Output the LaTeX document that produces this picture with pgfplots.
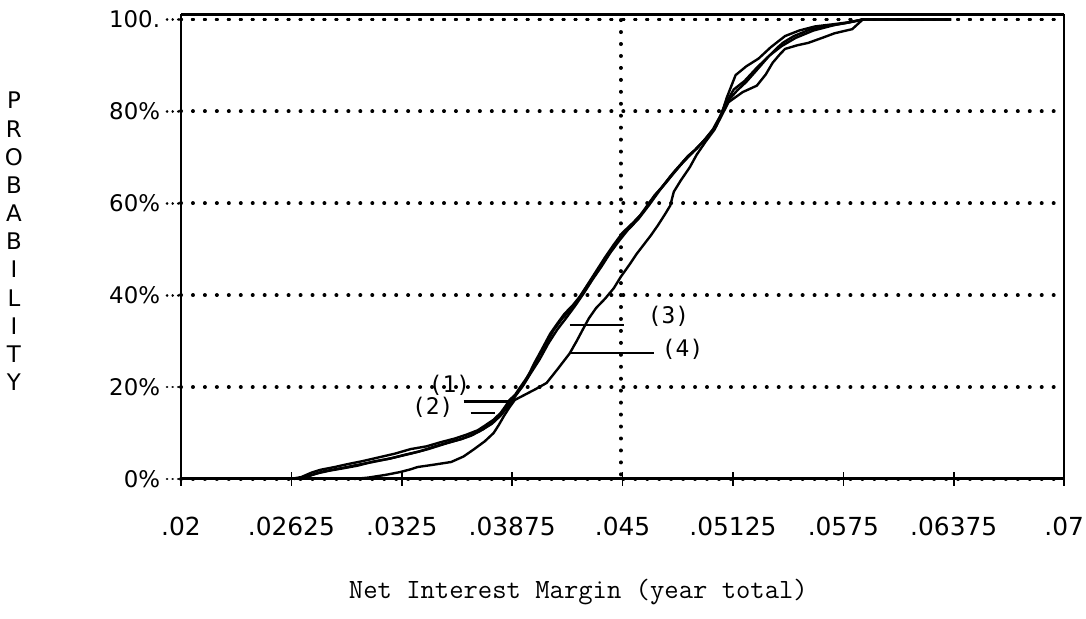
\documentclass[border=0pt]{standalone}
\usepackage{fontspec}
\usepackage{pgfplots}
\pgfplotsset{compat=1.18}
\newfontfamily\djs{DejaVu Sans}
\newfontfamily\djm{DejaVu Sans Mono}
\tikzset{dotgrid/.style={line width=2pt, line cap=round, dash pattern=on 0.01pt off 6pt, black}}
\begin{document}
\begin{tikzpicture}
\begin{axis}[
  name=ax,
  scale only axis,
  width=444pt, height=233.3pt,
  xmin=0.02, xmax=0.07, ymin=0, ymax=101,
  scaled x ticks=false,
  xtick={0.02,0.02625,0.0325,0.03875,0.045,0.05125,0.0575,0.06375,0.07},
  xticklabels={.02,.02625,.0325,.03875,.045,.05125,.0575,.06375,.07},
  ytick={0,20,40,60,80,100},
  yticklabels={0\%,20\%,40\%,60\%,80\%,100.},
  xticklabel style={font=\djs\fontsize{12.5}{15}\selectfont, yshift=-12pt},
  yticklabel style={font=\djs\fontsize{11.5}{13}\selectfont},
  x tick style={line width=0.8pt, black},
  y tick style={line width=1.4pt, line cap=round, dash pattern=on 0.01pt off 2.8pt, black},
  xtick pos=bottom, ytick pos=left,
  tick align=outside,
  xtick align=center,
  major tick length=7pt,
  ymajorgrids,
  grid style={dotgrid},
  axis line style={line width=0.75pt},
  clip=false,
]
% dotted vertical guide at .045
\draw[dotgrid] (axis cs:0.0449,1) -- (axis cs:0.0449,100);
\draw[dotgrid] (axis cs:0.02,100) -- (axis cs:0.07,100);

% curve (1)
\addplot[black, line width=1.2pt] coordinates {
(0.0262,0) (0.0268,0.4) (0.0274,1.4) (0.0279,2.0) (0.0287,2.6) (0.0294,3.2)
(0.0303,3.9) (0.0312,4.7) (0.0321,5.5) (0.0330,6.5) (0.0339,7.1) (0.0347,8.0)
(0.0355,8.8) (0.0362,9.7) (0.0368,10.6) (0.0372,11.6) (0.0377,12.9) (0.0381,14.4)
(0.0384,16.0) (0.0386,17.2) (0.0390,18.6) (0.0393,20.0) (0.0397,22.8) (0.0400,25.2)
(0.0404,28.0) (0.0409,31.6) (0.0413,33.8) (0.0417,35.9) (0.0422,37.9) (0.0426,39.8)
(0.0431,42.8) (0.0435,45.2) (0.0440,48.2) (0.0445,51.0) (0.0450,53.6) (0.0456,55.8)
(0.0462,58.2) (0.0468,61.7) (0.0474,64.2) (0.0481,67.5) (0.0487,70.3) (0.0492,71.9)
(0.0498,74.5) (0.0503,76.8) (0.0506,79.4) (0.0509,83.0) (0.0514,87.9) (0.0520,89.8)
(0.0527,91.5) (0.0534,94.0) (0.0542,96.4) (0.0550,97.6) (0.0559,98.5) (0.0570,99.0)
(0.0578,99.4) (0.0586,100) (0.0636,100)
};
% curve (2)
\addplot[black, line width=1.2pt] coordinates {
(0.0264,0) (0.0271,0.5) (0.0277,1.2) (0.0284,1.8) (0.0293,2.4) (0.0300,2.9)
(0.0309,3.8) (0.0318,4.4) (0.0327,5.3) (0.0335,6.0) (0.0343,7.0) (0.0351,7.9)
(0.0359,8.7) (0.0365,9.6) (0.0371,10.8) (0.0376,12.2) (0.0380,13.6) (0.0384,15.3)
(0.0388,17.6) (0.0391,19.4) (0.0395,21.6) (0.0399,24.0) (0.0403,27.0) (0.0407,29.6)
(0.0411,32.4) (0.0416,35.0) (0.0421,37.0) (0.0425,39.2) (0.0429,41.5) (0.0434,44.2)
(0.0439,47.0) (0.0444,50.2) (0.0449,52.8) (0.0455,55.0) (0.0460,57.4) (0.0466,60.6)
(0.0472,63.4) (0.0479,66.8) (0.0485,69.4) (0.0491,71.6) (0.0497,74.0) (0.0502,76.4)
(0.0505,78.6) (0.0508,81.5) (0.0513,84.8) (0.0519,86.6) (0.0526,89.5) (0.0533,92.1)
(0.0538,94.0) (0.0541,95.0) (0.0547,96.4) (0.0556,97.8) (0.0566,98.6) (0.0576,99.2)
(0.0586,100) (0.0636,100)
};
% curve (3)
\addplot[black, line width=1.2pt] coordinates {
(0.0266,0) (0.0272,0.6) (0.0280,1.6) (0.0290,2.3) (0.0299,3.0) (0.0310,3.8)
(0.0320,4.6) (0.0330,5.5) (0.0340,6.5) (0.0349,7.6) (0.0357,8.5) (0.0364,9.4)
(0.0370,10.6) (0.0376,12.0) (0.0381,13.8) (0.0386,16.2) (0.0390,18.4) (0.0394,20.5)
(0.0398,23.0) (0.0403,26.0) (0.0408,29.5) (0.0413,32.5) (0.0418,35.0) (0.0423,37.6)
(0.0428,40.4) (0.0433,43.4) (0.0438,46.2) (0.0443,49.2) (0.0448,51.8) (0.0453,54.2)
(0.0459,56.6) (0.0465,59.6) (0.0471,62.8) (0.0477,65.8) (0.0484,68.8) (0.0490,71.2)
(0.0496,73.6) (0.0501,76.0) (0.0505,78.8) (0.0509,82.0) (0.0515,84.6) (0.0520,86.4)
(0.0526,89.0) (0.0533,92.1) (0.0540,94.2) (0.0548,96.0) (0.0558,97.6) (0.0570,98.8)
(0.0580,99.5) (0.0586,100) (0.0636,100)
};
% curve (4)
\addplot[black, line width=1.2pt] coordinates {
(0.0298,0) (0.0306,0.3) (0.0316,0.9) (0.0324,1.5) (0.0330,2.1) (0.0334,2.6)
(0.0343,3.1) (0.0353,3.7) (0.0360,4.9) (0.0366,6.5) (0.0372,8.2) (0.0377,10.0)
(0.0380,11.8) (0.0383,13.8) (0.0386,15.6) (0.0389,17.2) (0.0395,18.4) (0.0401,19.6)
(0.0407,20.9) (0.0413,23.8) (0.0420,27.3) (0.0424,30.0) (0.0428,32.9) (0.0431,35.0)
(0.0435,37.2) (0.0440,39.2) (0.0445,41.5) (0.0449,44.0) (0.0454,46.7) (0.0458,49.0)
(0.0462,51.0) (0.0466,53.0) (0.0470,55.2) (0.0474,57.6) (0.0477,59.5) (0.0479,62.5)
(0.0483,65.0) (0.0488,67.8) (0.0492,70.6) (0.0497,73.4) (0.0502,76.0) (0.0506,79.0)
(0.0510,82.0) (0.0518,84.2) (0.0526,85.6) (0.0531,88.0) (0.0535,90.6) (0.0539,92.4)
(0.0542,93.6) (0.0549,94.4) (0.0555,94.9) (0.0563,96.0) (0.0570,97.0) (0.0580,97.9)
(0.0586,100) (0.0636,100)
};
% pointer lines for the labels
\addplot[black, line width=1.3pt] coordinates {(0.0360,16.8) (0.0386,16.8)};
\addplot[black, line width=1.3pt] coordinates {(0.0364,14.4) (0.0378,14.4)};
\addplot[black, line width=1.3pt] coordinates {(0.0420,33.5) (0.0451,33.5)};
\addplot[black, line width=1.3pt] coordinates {(0.0420,27.4) (0.0468,27.4)};
\node[font=\djm\fontsize{11.5}{13}\selectfont] at (axis cs:0.0352,20.4) {(1)};
\node[font=\djm\fontsize{11.5}{13}\selectfont] at (axis cs:0.03425,15.7) {(2)};
\node[font=\djm\fontsize{11.5}{13}\selectfont] at (axis cs:0.0476,35.4) {(3)};
\node[font=\djm\fontsize{11.5}{13}\selectfont] at (axis cs:0.0484,28.3) {(4)};

% thick top and bottom frame lines
\draw[line width=1.5pt] (rel axis cs:0,1) -- (rel axis cs:1,1);
\draw[line width=1.5pt] (rel axis cs:0,0) -- (rel axis cs:1,0);

% axis titles
\node[font=\ttfamily\fontsize{14}{16}\selectfont, anchor=base] at ([yshift=-60pt]rel axis cs:0.45,0) {Net Interest Margin (year total)};
\node[font=\djs\fontsize{11.5}{14.15}\selectfont, align=center] at ([xshift=-84pt]rel axis cs:0,0.512) {P\\R\\O\\B\\A\\B\\I\\L\\I\\T\\Y};
\end{axis}
\pgfresetboundingbox
\path ([shift={(-91pt,-70pt)}]ax.south west) rectangle ([shift={(11pt,7.5pt)}]ax.north east);
\end{tikzpicture}
\end{document}
